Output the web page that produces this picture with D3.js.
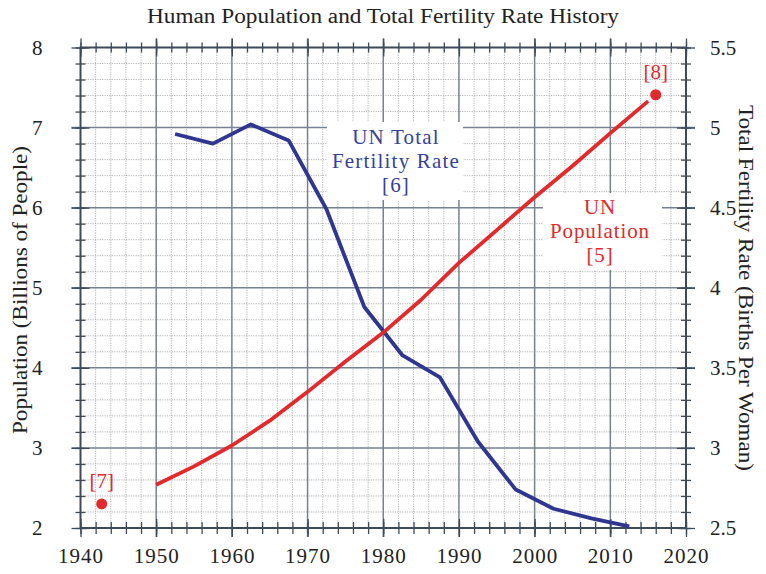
<!DOCTYPE html>
<html>
<head>
<meta charset="utf-8">
<script src="https://cdn.jsdelivr.net/npm/d3@7"></script>
<style>
  body { margin: 0; background: #fff; }
  text { font-family: "Liberation Serif", "DejaVu Serif", serif; }
</style>
</head>
<body>
<svg width="766" height="574"></svg>
<script>
// UN population (billions)
var popYears = [1950, 1955, 1960, 1965, 1970, 1975, 1980, 1985, 1990, 1995, 2000, 2005, 2010, 2015];
var popValues = [2.54, 2.77, 3.03, 3.34, 3.70, 4.08, 4.44, 4.85, 5.31, 5.72, 6.13, 6.52, 6.93, 7.33];

// UN total fertility rate (births per woman)
var tfrYears = [1952.5, 1957.5, 1962.5, 1967.5, 1972.5, 1977.5, 1982.5, 1987.5, 1992.5, 1997.5, 2002.5, 2007.5, 2012.5];
var tfrValues = [4.96, 4.90, 5.02, 4.92, 4.49, 3.88, 3.58, 3.44, 3.04, 2.74, 2.62, 2.56, 2.51];

// single points
var extraPoints = [
  { label: "[7]", year: 1942.8, pop: 2.30 },
  { label: "[8]", year: 2016.0, pop: 7.41 }
];

var xTicks = [1940, 1950, 1960, 1970, 1980, 1990, 2000, 2010, 2020];
var popTicks = [2, 3, 4, 5, 6, 7, 8];
var tfrTicks = [2.5, 3, 3.5, 4, 4.5, 5, 5.5];

var svg = d3.select("svg");

var plotL = 80.5, plotR = 686, plotT = 47.5, plotB = 528;

var x = d3.scaleLinear().domain([1940, 2020]).range([plotL, plotR]);
var yPop = d3.scaleLinear().domain([2, 8]).range([plotB, plotT]);
var yTfr = d3.scaleLinear().domain([2.5, 5.5]).range([plotB, plotT]);

var red = "#e2292b", blue = "#2f3690";
var majorColor = "#76828f", axisColor = "#3d4b59", minorColor = "#a0a0a0";

// minor grid (dotted)
var minorX = d3.range(1942, 2020, 2).filter(function (d) { return d % 10 !== 0; });
var minorY = d3.range(2.2, 8, 0.2).filter(function (d) { return Math.abs(d - Math.round(d)) > 0.01; });

var grid = svg.append("g");
grid.selectAll(".mx").data(minorX).enter().append("line")
  .attr("x1", function (d) { return x(d); }).attr("x2", function (d) { return x(d); })
  .attr("y1", plotT).attr("y2", plotB)
  .attr("stroke", minorColor).attr("stroke-width", 0.8).attr("stroke-dasharray", "1.2,1.2");
grid.selectAll(".my").data(minorY).enter().append("line")
  .attr("y1", function (d) { return yPop(d); }).attr("y2", function (d) { return yPop(d); })
  .attr("x1", plotL).attr("x2", plotR)
  .attr("stroke", minorColor).attr("stroke-width", 0.8).attr("stroke-dasharray", "1.2,1.2");

// major grid
grid.selectAll(".Mx").data(xTicks.slice(1, -1)).enter().append("line")
  .attr("x1", function (d) { return x(d); }).attr("x2", function (d) { return x(d); })
  .attr("y1", plotT - 9).attr("y2", plotB + 9)
  .attr("stroke", majorColor).attr("stroke-width", 1.5);
grid.selectAll(".My").data(popTicks.slice(1, -1)).enter().append("line")
  .attr("y1", function (d) { return yPop(d); }).attr("y2", function (d) { return yPop(d); })
  .attr("x1", plotL - 9).attr("x2", plotR + 9)
  .attr("stroke", majorColor).attr("stroke-width", 1.5);

// axes with crossing ticks
function crossAxis(axisFn, scale, ticks, transform, size) {
  [size, -size].forEach(function (s) {
    svg.append("g").attr("transform", transform)
      .call(axisFn(scale).tickValues(ticks).tickSizeInner(s).tickSizeOuter(0).tickFormat(""))
      .call(function (g) {
        g.select(".domain").remove();
        g.selectAll("line").attr("stroke", axisColor).attr("stroke-width", 1.3);
      });
  });
}

var minorXT = d3.range(1940, 2021, 2);
var minorYT = d3.range(2, 8.01, 0.2);
crossAxis(d3.axisBottom, x, minorXT, "translate(0," + plotB + ")", 6);
crossAxis(d3.axisTop, x, minorXT, "translate(0," + plotT + ")", 5);
crossAxis(d3.axisLeft, yPop, minorYT, "translate(" + plotL + ",0)", 5);
crossAxis(d3.axisRight, yPop, minorYT, "translate(" + plotR + ",0)", 5);
crossAxis(d3.axisBottom, x, xTicks, "translate(0," + plotB + ")", 9);
crossAxis(d3.axisTop, x, xTicks, "translate(0," + plotT + ")", 9);
crossAxis(d3.axisLeft, yPop, popTicks, "translate(" + plotL + ",0)", 9);
crossAxis(d3.axisRight, yPop, popTicks, "translate(" + plotR + ",0)", 9);

// frame
svg.append("rect").attr("x", plotL).attr("y", plotT)
  .attr("width", plotR - plotL).attr("height", plotB - plotT)
  .attr("fill", "none").attr("stroke", axisColor).attr("stroke-width", 2);

// tick labels
function labelAxis(axis, transform, spacing) {
  svg.append("g").attr("transform", transform)
    .call(axis)
    .call(function (g) {
      g.select(".domain").remove();
      g.selectAll("line").remove();
      g.selectAll("text").attr("font-size", 21).attr("fill", "#222")
        .attr("font-family", "Liberation Serif, serif").attr("letter-spacing", spacing);
    });
}
labelAxis(d3.axisBottom(x).tickValues(xTicks).tickFormat(d3.format("d")).tickPadding(14), "translate(0," + plotB + ")", 1);
labelAxis(d3.axisLeft(yPop).tickValues(popTicks).tickFormat(d3.format("d")).tickPadding(32), "translate(" + plotL + ",0)", 0);
labelAxis(d3.axisRight(yTfr).tickValues(tfrTicks).tickFormat(d3.format("")).tickPadding(18), "translate(" + plotR + ",0)", 0);

// title and axis titles
svg.append("text").attr("x", 383).attr("y", 23).attr("text-anchor", "middle")
  .attr("font-size", 20).attr("fill", "#222")
  .attr("textLength", 472).attr("lengthAdjust", "spacingAndGlyphs")
  .text("Human Population and Total Fertility Rate History");

svg.append("text").attr("transform", "translate(27,290) rotate(-90)")
  .attr("text-anchor", "middle").attr("font-size", 20).attr("fill", "#222")
  .attr("textLength", 288).attr("lengthAdjust", "spacingAndGlyphs")
  .text("Population (Billions of People)");

svg.append("text").attr("transform", "translate(739,288) rotate(90)")
  .attr("text-anchor", "middle").attr("font-size", 20).attr("fill", "#222")
  .attr("textLength", 366).attr("lengthAdjust", "spacingAndGlyphs")
  .text("Total Fertility Rate (Births Per Woman)");

// annotation boxes (white behind labels)
svg.append("rect").attr("x", 327).attr("y", 122).attr("width", 136).attr("height", 78).attr("fill", "#fff");
svg.append("rect").attr("x", 543).attr("y", 193).attr("width", 119).attr("height", 77).attr("fill", "#fff");

// lines
var popLine = d3.line().x(function (d, i) { return x(popYears[i]); }).y(function (d) { return yPop(d); });
var tfrLine = d3.line().x(function (d, i) { return x(tfrYears[i]); }).y(function (d) { return yTfr(d); });

svg.append("path").datum(tfrValues).attr("d", tfrLine)
  .attr("fill", "none").attr("stroke", blue).attr("stroke-width", 3.8).attr("stroke-linejoin", "round");
svg.append("path").datum(popValues).attr("d", popLine)
  .attr("fill", "none").attr("stroke", red).attr("stroke-width", 3.8).attr("stroke-linejoin", "round");

svg.selectAll(".pt").data(extraPoints).enter().append("circle")
  .attr("cx", function (d) { return x(d.year); }).attr("cy", function (d) { return yPop(d.pop); })
  .attr("r", 5.5).attr("fill", red);
svg.selectAll(".ptl").data(extraPoints).enter().append("text")
  .attr("x", function (d) { return x(d.year); }).attr("y", function (d) { return yPop(d.pop) - 16; })
  .attr("text-anchor", "middle").attr("font-size", 21).attr("fill", red)
  .text(function (d) { return d.label; });

// series labels
var blueLabel = ["UN Total", "Fertility Rate", "[6]"];
svg.selectAll(".bl").data(blueLabel).enter().append("text")
  .attr("x", 396).attr("y", function (d, i) { return 144 + i * 24; })
  .attr("text-anchor", "middle").attr("font-size", 21).attr("letter-spacing", 1.2)
  .attr("fill", "#34419a")
  .text(function (d) { return d; });

var redLabel = ["UN", "Population", "[5]"];
svg.selectAll(".rl").data(redLabel).enter().append("text")
  .attr("x", 600).attr("y", function (d, i) { return 214 + i * 24; })
  .attr("text-anchor", "middle").attr("font-size", 21).attr("letter-spacing", 0.9)
  .attr("fill", red)
  .text(function (d) { return d; });
</script>
</body>
</html>
